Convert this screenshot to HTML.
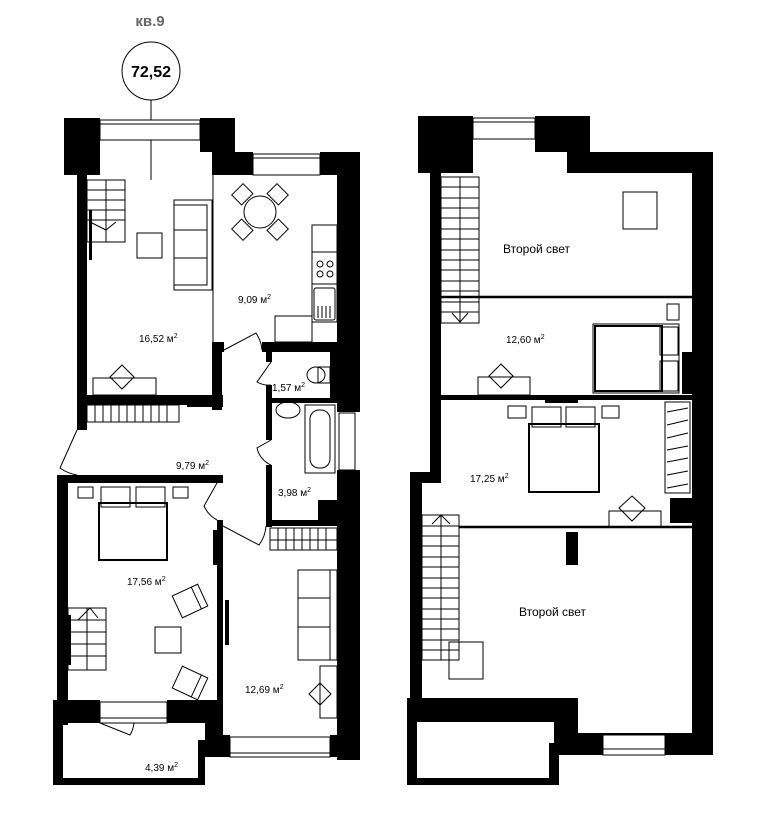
<!DOCTYPE html>
<html><head><meta charset="utf-8"><style>
html,body{margin:0;padding:0;background:#fff;}
svg{display:block;}
text{font-family:"Liberation Sans",sans-serif;}
</style></head><body>
<svg width="766" height="822" viewBox="0 0 766 822" xmlns="http://www.w3.org/2000/svg">
<rect width="766" height="822" fill="#fff"/>
<text x="150" y="26" font-size="15" font-weight="bold" fill="#666" text-anchor="middle">кв.9</text>
<circle cx="151" cy="71" r="29" fill="none" stroke="#000" stroke-width="1"/>
<text x="151" y="77" font-size="16" font-weight="bold" fill="#000" text-anchor="middle">72,52</text>
<line x1="151" y1="100" x2="151" y2="180" stroke="#000" stroke-width="1"/>

<g fill="#000">
<rect x="64" y="118" width="36" height="57"/>
<rect x="200" y="118" width="35" height="34"/>
<rect x="212" y="152" width="41" height="23"/>
<rect x="320" y="152" width="40" height="23"/>
<rect x="77" y="175" width="10" height="255"/>
<rect x="337" y="152" width="23" height="260"/>
<rect x="337" y="470" width="23" height="290"/>
<rect x="87" y="395" width="100" height="10"/>
<rect x="187" y="395" width="36" height="12"/>
<rect x="212" y="342" width="10" height="68"/>
<rect x="212" y="342" width="12" height="10"/>
<rect x="262" y="342" width="78" height="10"/>
<rect x="266" y="342" width="6" height="20"/>
<rect x="266" y="385" width="6" height="55"/>
<rect x="266" y="465" width="6" height="62"/>
<rect x="266" y="398" width="74" height="5"/>
<rect x="266" y="520" width="74" height="6"/>
<rect x="57" y="475" width="160" height="8"/>
<rect x="57" y="475" width="11" height="250"/>
<rect x="217" y="520" width="6" height="200"/>
<rect x="210" y="475" width="13" height="8"/>
<rect x="53" y="700" width="47" height="23"/>
<rect x="167" y="700" width="56" height="23"/>
<rect x="53" y="723" width="10" height="62"/>
<rect x="53" y="778" width="152" height="7"/>
<rect x="198" y="740" width="7" height="45"/>
<rect x="205" y="700" width="18" height="57"/>
<rect x="205" y="735" width="25" height="22"/>
<rect x="330" y="735" width="30" height="22"/>
<rect x="213" y="530" width="5" height="35"/>
<rect x="225" y="600" width="4" height="45"/>
<rect x="67" y="615" width="4" height="50"/>
<rect x="89" y="210" width="3" height="50"/>
</g>
<g fill="#fff" stroke="#000" stroke-width="1">
<rect x="100" y="120" width="100" height="20"/>
<rect x="253" y="154" width="67" height="21"/>
<rect x="339" y="413" width="16" height="57"/>
<rect x="100" y="702" width="67" height="21"/>
<rect x="230" y="737" width="100" height="20"/>
</g>
<g stroke="#000" stroke-width="1" fill="none">
<line x1="100" y1="124" x2="200" y2="124"/>
<line x1="253" y1="158" x2="320" y2="158"/>
<line x1="230" y1="753" x2="330" y2="753"/>
<line x1="100" y1="718" x2="167" y2="718"/>
<line x1="213" y1="175" x2="213" y2="342"/>
<rect x="87" y="180" width="38" height="62"/>
<line x1="106" y1="180" x2="106" y2="242"/>
<line x1="87" y1="190" x2="125" y2="190"/><line x1="87" y1="200" x2="125" y2="200"/>
<line x1="87" y1="210" x2="125" y2="210"/><line x1="87" y1="220" x2="125" y2="220"/>
<line x1="90" y1="222" x2="106" y2="230"/><line x1="106" y1="230" x2="116" y2="222"/>
<rect x="174" y="200" width="38" height="90"/>
<rect x="174" y="205" width="33" height="80"/>
<line x1="174" y1="230" x2="207" y2="230"/><line x1="174" y1="258" x2="207" y2="258"/>
<rect x="137" y="233" width="25" height="25"/>
<rect x="93" y="378" width="63" height="17"/>
<polygon points="122,365 134,377 122,389 110,377"/>
<circle cx="260" cy="212" r="16"/>
<g transform="rotate(45 260 212)">
<rect x="252" y="180" width="16" height="14"/><rect x="252" y="230" width="16" height="14"/>
<rect x="228" y="204" width="14" height="16"/><rect x="278" y="204" width="14" height="16"/>
</g>
<rect x="312" y="225" width="25" height="97"/>
<line x1="312" y1="252" x2="337" y2="252"/><line x1="312" y1="284" x2="337" y2="284"/>
<circle cx="320" cy="264" r="3"/><circle cx="330" cy="264" r="3"/>
<circle cx="320" cy="274" r="3"/><circle cx="330" cy="274" r="3"/>
<rect x="314" y="288" width="21" height="32" rx="2"/>
<line x1="318" y1="306" x2="318" y2="318"/><line x1="322" y1="306" x2="322" y2="318"/><line x1="326" y1="306" x2="326" y2="318"/><line x1="330" y1="306" x2="330" y2="318"/>
<rect x="275" y="316" width="37" height="26"/>
<path d="M224,350 L256,333 A36,36 0 0 1 262,350"/>
<path d="M271,362 L257,382 A24,24 0 0 0 271,385"/>
<path d="M271,440 L257,448 A24,24 0 0 0 271,465"/>
<path d="M77,430 L60,468 A40,40 0 0 0 77,475"/>
<path d="M217,483 L204,506 A30,30 0 0 0 217,520"/>
<path d="M223,526 L259,545 A36,36 0 0 0 266,526"/>
<path d="M100,723 L130,735 A30,30 0 0 0 134,723"/>
<rect x="87" y="405" width="92" height="17"/>
<line x1="95" y1="405" x2="95" y2="422"/><line x1="103" y1="405" x2="103" y2="422"/><line x1="111" y1="405" x2="111" y2="422"/><line x1="119" y1="405" x2="119" y2="422"/><line x1="127" y1="405" x2="127" y2="422"/><line x1="135" y1="405" x2="135" y2="422"/><line x1="143" y1="405" x2="143" y2="422"/><line x1="151" y1="405" x2="151" y2="422"/><line x1="159" y1="405" x2="159" y2="422"/><line x1="167" y1="405" x2="167" y2="422"/>
<ellipse cx="316" cy="375" rx="9" ry="8"/><rect x="318" y="367" width="12" height="16"/>
<ellipse cx="288" cy="410" rx="12" ry="8"/>
<rect x="305" y="405" width="30" height="68"/>
<rect x="310" y="410" width="20" height="58" rx="9"/>
<rect x="270" y="528" width="67" height="22"/>
<line x1="270" y1="540" x2="337" y2="540"/>
<line x1="278" y1="528" x2="278" y2="550"/><line x1="286" y1="528" x2="286" y2="550"/><line x1="294" y1="528" x2="294" y2="550"/><line x1="302" y1="528" x2="302" y2="550"/><line x1="310" y1="528" x2="310" y2="550"/><line x1="318" y1="528" x2="318" y2="550"/><line x1="326" y1="528" x2="326" y2="550"/>
<rect x="298" y="570" width="39" height="90"/>
<line x1="330" y1="570" x2="330" y2="660"/>
<line x1="298" y1="598" x2="330" y2="598"/><line x1="298" y1="627" x2="330" y2="627"/>
<rect x="320" y="666" width="17" height="52"/>
<polygon points="320,683 331,694 320,705 309,694"/>
<rect x="78" y="487" width="15" height="11"/><rect x="173" y="487" width="15" height="11"/>
<rect x="101" y="487" width="29" height="20"/><rect x="136" y="487" width="29" height="20"/>
<rect x="99" y="503" width="68" height="57" stroke-width="2"/>
<g transform="rotate(-25 190 601)"><rect x="176" y="589" width="28" height="24"/><line x1="197" y1="589" x2="197" y2="613"/></g>
<g transform="rotate(25 190 683)"><rect x="176" y="671" width="28" height="24"/><line x1="197" y1="671" x2="197" y2="695"/></g>
<rect x="155" y="627" width="26" height="26"/>
<rect x="68" y="608" width="38" height="62"/>
<line x1="87" y1="608" x2="87" y2="670"/>
<line x1="68" y1="620" x2="106" y2="620"/><line x1="68" y1="632" x2="106" y2="632"/><line x1="68" y1="644" x2="106" y2="644"/><line x1="68" y1="656" x2="106" y2="656"/>
<polyline points="78,620 90,608 98,618"/>
</g>
<g fill="#000">
<rect x="330" y="352" width="7" height="46"/>
<rect x="318" y="500" width="19" height="20"/>
</g>
<g font-size="10" fill="#000">
<text x="139" y="342">16,52 м<tspan font-size="7" dy="-4">2</tspan></text>
<text x="238" y="303">9,09 м<tspan font-size="7" dy="-4">2</tspan></text>
<text x="272" y="391">1,57 м<tspan font-size="7" dy="-4">2</tspan></text>
<text x="176" y="469">9,79 м<tspan font-size="7" dy="-4">2</tspan></text>
<text x="278" y="496">3,98 м<tspan font-size="7" dy="-4">2</tspan></text>
<text x="127" y="585">17,56 м<tspan font-size="7" dy="-4">2</tspan></text>
<text x="245" y="693">12,69 м<tspan font-size="7" dy="-4">2</tspan></text>
<text x="145" y="771">4,39 м<tspan font-size="7" dy="-4">2</tspan></text>
</g>

<g fill="#000">
<rect x="418" y="116" width="55" height="57"/>
<rect x="535" y="116" width="55" height="36"/>
<rect x="567" y="152" width="146" height="21"/>
<rect x="430" y="173" width="11" height="302"/>
<rect x="410" y="472" width="31" height="11"/>
<rect x="410" y="472" width="12" height="250"/>
<rect x="692" y="152" width="21" height="603"/>
<rect x="441" y="395" width="251" height="5"/>
<rect x="545" y="400" width="33" height="3"/>
<rect x="566" y="532" width="12" height="33"/>
<rect x="407" y="698" width="171" height="24"/>
<rect x="554" y="698" width="24" height="57"/>
<rect x="554" y="733" width="159" height="22"/>
<rect x="407" y="722" width="10" height="63"/>
<rect x="407" y="778" width="152" height="7"/>
<rect x="549" y="743" width="10" height="42"/>
<rect x="682" y="352" width="10" height="42"/>
<rect x="670" y="498" width="22" height="25"/>
</g>
<g fill="#fff" stroke="#000" stroke-width="1">
<rect x="473" y="118" width="62" height="21"/>
<rect x="603" y="735" width="62" height="20"/>
</g>
<g stroke="#000" stroke-width="1" fill="none">
<line x1="473" y1="122" x2="535" y2="122"/>
<line x1="603" y1="749" x2="665" y2="749"/>
<line x1="441" y1="297" x2="692" y2="297" stroke-width="2.5"/>
<line x1="459" y1="527" x2="692" y2="527" stroke-width="2.5"/>
<rect x="441" y="177" width="38" height="146"/>
<line x1="460" y1="177" x2="460" y2="323"/>
<path d="M441,187H479M441,198H479M441,208H479M441,218H479M441,229H479M441,239H479M441,250H479M441,260H479M441,270H479M441,281H479M441,291H479M441,302H479M441,312H479"/>
<polyline points="452,313 460,322 468,313"/>
<rect x="623" y="192" width="34" height="37"/>
<rect x="667" y="304" width="12" height="16"/>
<rect x="593" y="324" width="86" height="69"/>
<rect x="595" y="326" width="67" height="65" stroke-width="2"/>
<rect x="660" y="327" width="18" height="28"/><rect x="660" y="361" width="18" height="30"/>
<rect x="478" y="377" width="52" height="18"/>
<polygon points="501,364 513,376 501,388 489,376"/>
<rect x="508" y="406" width="18" height="12"/><rect x="602" y="406" width="17" height="12"/>
<rect x="532" y="407" width="29" height="20"/><rect x="566" y="407" width="29" height="20"/>
<rect x="529" y="424" width="70" height="68" stroke-width="2"/>
<rect x="665" y="402" width="25" height="91"/>
<path d="M667,412L688,408M667,425L688,420M667,438L688,433M667,450L688,446M667,462L688,458M667,475L688,471M667,488L688,484"/>
<rect x="609" y="511" width="52" height="16"/>
<polygon points="632,496 645,508 632,521 619,508"/>
<rect x="422" y="515" width="37" height="145"/>
<line x1="441" y1="515" x2="441" y2="660"/>
<path d="M422,526H459M422,536H459M422,546H459M422,557H459M422,567H459M422,578H459M422,588H459M422,598H459M422,609H459M422,619H459M422,629H459M422,640H459M422,650H459"/>
<polyline points="432,524 441,515 450,524"/>
<rect x="449" y="642" width="34" height="37"/>
</g>
<g font-size="12" fill="#000">
<text x="503" y="253">Второй свет</text>
<text x="519" y="616">Второй свет</text>
</g>
<g font-size="10" fill="#000">
<text x="506" y="343">12,60 м<tspan font-size="7" dy="-4">2</tspan></text>
<text x="470" y="482">17,25 м<tspan font-size="7" dy="-4">2</tspan></text>
</g>
</svg>
</body></html>
